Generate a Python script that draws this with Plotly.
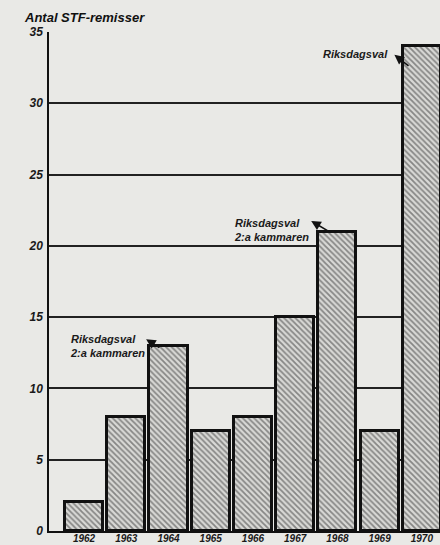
import plotly.graph_objects as go

years = [1962, 1963, 1964, 1965, 1966, 1967, 1968, 1969, 1970]
remisser = [2, 8, 13, 7, 8, 15, 21, 7, 34]
year_labels = [str(y) for y in years]
y_ticks = [0, 5, 10, 15, 20, 25, 30, 35]

BG = "#e9e9e6"
FONT = dict(family="Liberation Sans, Arial, sans-serif", size=11, color="#1a1a1a",
            style="italic", weight="bold")

fig = go.Figure()
fig.add_trace(go.Bar(
    x=years, y=remisser, width=0.9,
    marker=dict(
        color="#c4c4c1",
        line=dict(color="#111111", width=3),
        pattern=dict(shape="\\", fgcolor="#333333", bgcolor="#d9d9d6", size=4, solidity=0.45),
    ),
    hoverinfo="skip",
))

def note(x, y, text, xanchor):
    fig.add_annotation(x=x, y=y, xref="x", yref="y", text=text, showarrow=False,
                       xanchor=xanchor, yanchor="middle", align="left", font=FONT)

def arrow(hx, hy, tx, ty):
    fig.add_annotation(x=hx, y=hy, ax=tx, ay=ty, xref="x", yref="y", axref="x", ayref="y",
                       text="", showarrow=True, arrowhead=2, arrowsize=1.2, arrowwidth=1.6,
                       arrowcolor="#111111")

note(1961.62, 13.0, "Riksdagsval<br>2:a kammaren", "left")
arrow(1963.47, 13.45, 1963.82, 12.8)
note(1965.50, 21.1, "Riksdagsval<br>2:a kammaren", "left")
arrow(1967.38, 21.75, 1967.83, 20.95)
note(1969.25, 33.45, "Riksdagsval", "right")
arrow(1969.35, 33.4, 1969.72, 32.55)

fig.add_annotation(x=-0.069, y=1.03, xref="paper", yref="paper", text="Antal STF-remisser",
                   showarrow=False, xanchor="left", yanchor="middle",
                   font=dict(family="Liberation Sans, Arial, sans-serif", size=13,
                             color="#111111", style="italic", weight="bold"))

fig.update_layout(
    width=440, height=545,
    margin=dict(l=49, r=0, t=32, b=14),
    paper_bgcolor=BG, plot_bgcolor=BG,
    showlegend=False, bargap=0,
    xaxis=dict(range=[1961.17, 1970.43], tickvals=years, ticktext=year_labels,
               showgrid=False, zeroline=False, showline=True, linecolor="#111111",
               linewidth=2, ticks="", ticklen=0, ticklabelstandoff=-3,
               tickfont=dict(FONT, size=10), automargin=False, fixedrange=True),
    yaxis=dict(range=[0, 35], tickvals=y_ticks, showgrid=True, gridcolor="#222222",
               gridwidth=1.5, zeroline=False, showline=True, linecolor="#111111",
               linewidth=1.5, ticks="outside", ticklen=2, tickcolor=BG, tickwidth=0.1,
               tickfont=dict(FONT, size=12), automargin=False, fixedrange=True),
)

fig.write_html("out.html", config={"displayModeBar": False},
               post_script="document.body.style.margin='0px';")
